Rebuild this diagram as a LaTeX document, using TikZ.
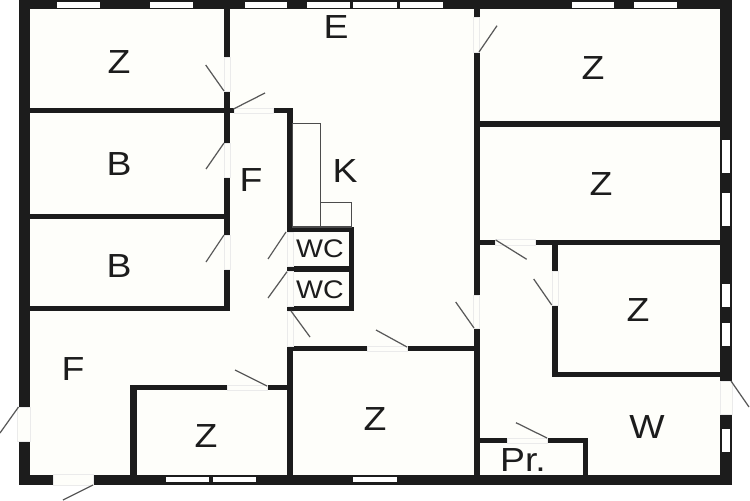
\documentclass[tikz,border=0pt]{standalone}
\usepackage{fontspec}
\setmainfont[FakeStretch=1.12]{Liberation Sans}

\tikzset{
  wall/.style={fill=wallblack,draw=none},
  pane/.style={fill=white,draw=none},
  gap/.style={fill=floorwhite,draw=black!8,line width=0.3pt},
  swing/.style={draw=black!65,line width=0.7pt},
  fitting/.style={draw=black!70,line width=0.6pt},
  room/.style={inner sep=0pt,text=wallblack,font=\fontsize{19}{19}\selectfont},
  smallroom/.style={inner sep=0pt,text=wallblack,font=\fontsize{14.5}{15}\selectfont}
}
\definecolor{wallblack}{HTML}{1C1C1C}
\definecolor{floorwhite}{HTML}{FEFEFA}

\begin{document}
\begin{tikzpicture}[x=0.02cm,y=-0.02cm]
    \useasboundingbox (0,0) rectangle (750,500);
    \fill[floorwhite] (30,9) rectangle (720,475);

    % outer walls
    \fill[wall] (18.5,0) rectangle (731.5,9.5);
    \fill[wall] (18.5,474.5) rectangle (731.5,484.5);
    \fill[wall] (18.5,0) rectangle (30,484.5);
    \fill[wall] (720,0) rectangle (731.5,484.5);

    % inner walls
    \foreach \xa/\ya/\xb/\yb in {
      224/9/230/311, 30/108/234/113, 30/213.5/224/218.5, 30/306/230/311,
      273/108/292.5/113, 287/108/292.5/232, 287/227/354/232, 287/266/354/271.5,
      287/306/354/311, 348.5/227/354/311,
      287/346/475/351, 287/346/293/475, 130/385/287/390, 130/385/136.5/475,
      473.5/9/479.5/475, 479/121/720/126.5, 473.5/239.5/720/245,
      552/240/558/377, 552/371.5/720/377,
      479/438/588/443, 583/438/588/475}
      \fill[wall] (\xa,\ya) rectangle (\xb,\yb);

    % door openings
    \foreach \xa/\ya/\xb/\yb in {
      224/57/230/91, 224/143/230/177, 224/235/230/269, 234/108/273/113,
      287/232/293/266, 287/271.5/293/306, 287/311/293/346,
      367/346/407/351, 227/385/267/390, 473.5/17.5/479.5/52, 473.5/295/479.5/328,
      495.7/239.5/535.7/245, 552/271.7/558/305, 507/438/547.3/443,
      17/407/30/441, 53/474.5/93/485, 720/381/732/414}
      \filldraw[gap] (\xa,\ya) rectangle (\xb,\yb);

    % windows
    \foreach \xa/\xb in {57/100,150/193,244.5/287,307/350,353/396.7,400/443,572/614,634/677}
      \fill[pane] (\xa,2.3) rectangle (\xb,8);
    \foreach \xa/\xb in {166/209,213/256,353/397}
      \fill[pane] (\xa,477) rectangle (\xb,482);
    \foreach \ya/\yb in {140/173,193/226,284/307,323/346,429/452}
      \fill[pane] (722,\ya) rectangle (730,\yb);

    % door leaves
    \foreach \xa/\ya/\xb/\yb in {
      224/91/205.7/65, 224/143/206/169, 224/235/206/262, 233.5/109/265/93,
      286/232/268/259, 287/271.7/268/298, 291/311/310/337,
      407/347/376/330, 267/386/235/370, 479/52/497/25.7, 474/328/455.7/302,
      495.7/240/526.7/259.3, 551.7/305/533.7/279, 547/438/516/422.7,
      18.5/407/0/433, 93/485/63/500, 731/381/749/407}
      \draw[swing] (\xa,\ya) -- (\xb,\yb);

    % kitchen
    \draw[fitting] (292.5,123.7) rectangle (320.7,227);
    \draw[fitting] (320.7,202.3) rectangle (351.7,227);

    % rooms
    \node[room] (zA) at (119,62) {Z};
    \node[room] (hall) at (336,27) {E};
    \node[room] (bA) at (119,164) {B};
    \node[room] (fA) at (251,180) {F};
    \node[room] (kitchen) at (345,171) {K};
    \node[room] (bB) at (119,266) {B};
    \node[smallroom] (wcA) at (320,249) {WC};
    \node[smallroom] (wcB) at (320,290) {WC};
    \node[room] (fB) at (73,369) {F};
    \node[room] (zB) at (206,436) {Z};
    \node[room] (zC) at (375,419) {Z};
    \node[room] (zD) at (593,68) {Z};
    \node[room] (zE) at (601,184) {Z};
    \node[room] (zF) at (638,310) {Z};
    \node[room] (wash) at (647,427) {W};
    \node[room] (pantry) at (523,460) {Pr.};
\end{tikzpicture}
\end{document}
